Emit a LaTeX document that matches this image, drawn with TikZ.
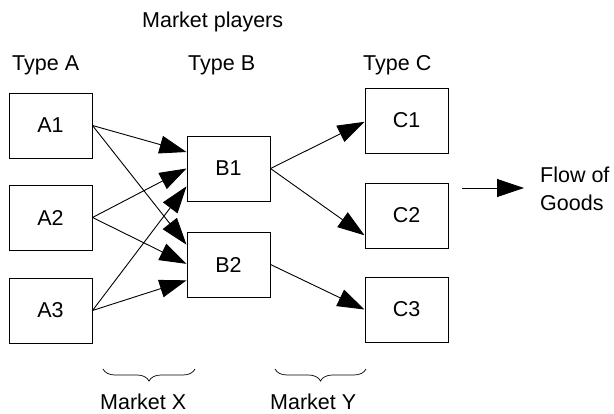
\documentclass[tikz,border=0pt]{standalone}
\usepackage{fontspec}
\setmainfont{Liberation Sans}
\usetikzlibrary{arrows.meta,decorations.pathreplacing,calc}
\newcommand\fsz{\fontsize{21.5}{26}\selectfont}
\begin{document}
\begin{tikzpicture}[x=1pt,y=-1pt,
  box/.style={draw, line width=1pt, minimum width=83pt, minimum height=65pt, inner sep=0pt, font=\fsz},
  conn/.style={line width=0.9pt, -{Triangle[length=27pt,width=18pt]}},
  lbl/.style={font=\fsz, inner sep=0pt, anchor=base west},
  mbrace/.style={decorate, decoration={brace, mirror, amplitude=12pt}, line width=0.7pt}]
\useasboundingbox (0,0) rectangle (614,413);

\node[lbl] (mp) at (142,27) {Market players};
\node[lbl] (ta) at (12,70) {Type A};
\node[lbl] (tb) at (188,70) {Type B};
\node[lbl] (tc) at (363,70) {Type C};

\node[box] (A1) at (50.5,125.5) {A1};
\node[box] (A2) at (50.5,217.5) {A2};
\node[box] (A3) at (50.5,310.5) {A3};
\node[box] (B1) at (228.5,168.5) {B1};
\node[box] (B2) at (228.5,264.5) {B2};
\node[box] (C1) at (406.5,120.5) {C1};
\node[box] (C2) at (406.5,215.5) {C2};
\node[box] (C3) at (406.5,309.5) {C3};

\draw[conn] (A1.east) -- ($(B1.north west)!0.25!(B1.south west)$);
\draw[conn] (A1.east) -- ($(B2.north west)!0.2!(B2.south west)$);
\draw[conn] (A2.east) -- ($(B1.north west)!0.5!(B1.south west)$);
\draw[conn] (A2.east) -- ($(B2.north west)!0.49!(B2.south west)$);
\draw[conn] (A3.east) -- ($(B1.north west)!0.77!(B1.south west)$);
\draw[conn] (A3.east) -- ($(B2.north west)!0.74!(B2.south west)$);

\draw[conn] (B1.east) -- ($(C1.north west)!0.52!(C1.south west)$);
\draw[conn] (B1.east) -- ($(C2.north west)!0.8!(C2.south west)$);
\draw[conn] (B2.east) -- ($(C3.north west)!0.5!(C3.south west)$);

\coordinate (fs) at (462,188);
\coordinate (fe) at (524,188);
\draw[conn] (fs) -- (fe);
\node[lbl] (flow) at (540,182) {Flow of};
\node[lbl] (goods) at (540,210) {Goods};

\coordinate (xl) at (103,369);
\coordinate (xr) at (195,369);
\coordinate (yl) at (275,369);
\coordinate (yr) at (366,369);
\draw[mbrace] (xl) -- (xr);
\draw[mbrace] (yl) -- (yr);
\node[lbl] (mx) at (100,409) {Market X};
\node[lbl] (my) at (270,409) {Market Y};
\end{tikzpicture}
\end{document}
